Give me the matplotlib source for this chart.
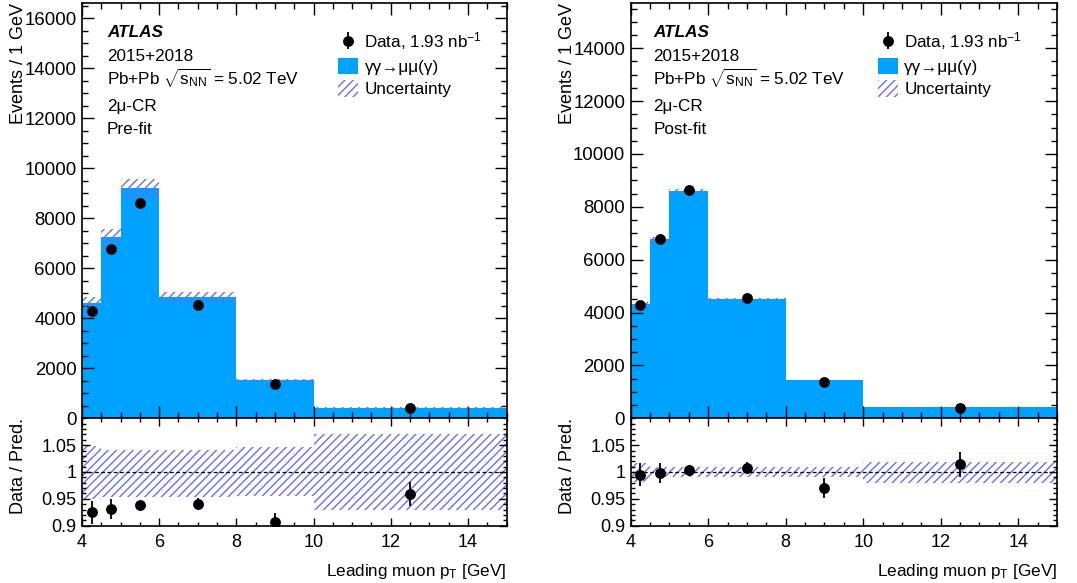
import numpy as np
import matplotlib
matplotlib.use("Agg")
import matplotlib.pyplot as plt
from matplotlib.lines import Line2D
from matplotlib.patches import Patch
from matplotlib.ticker import MultipleLocator

plt.rcParams['font.family'] = ['Liberation Sans', 'DejaVu Sans']
plt.rcParams['mathtext.fontset'] = 'custom'
plt.rcParams['mathtext.rm'] = 'Liberation Sans'
plt.rcParams['mathtext.it'] = 'Liberation Sans:italic'
plt.rcParams['mathtext.bf'] = 'Liberation Sans:bold'
plt.rcParams['hatch.linewidth'] = 1.0

# ---------------- data ----------------
edges = [4, 4.5, 5, 6, 8, 10, 15]
centers = [4.25, 4.75, 5.5, 7, 9, 12.5]

data = [4280, 6770, 8630, 4540, 1370, 405]
data_err = [65, 82, 93, 67, 37, 20]

pred_pre = [4630, 7270, 9210, 4840, 1520, 425]
pred_post = [4320, 6780, 8605, 4522, 1448, 416]

# uncertainty band (relative, lower/upper)
band_pre_lo = [0.950, 0.953, 0.953, 0.953, 0.955, 0.929]
band_pre_hi = [1.049, 1.041, 1.041, 1.041, 1.046, 1.071]
band_post_lo = [0.982, 0.990, 0.990, 0.990, 0.990, 0.980]
band_post_hi = [1.017, 1.009, 1.009, 1.009, 1.009, 1.019]

ratio_pre = [0.925, 0.931, 0.938, 0.941, 0.906, 0.959]
ratio_pre_err = [0.021, 0.018, 0.010, 0.011, 0.017, 0.023]
ratio_post = [0.995, 0.998, 1.003, 1.007, 0.970, 1.014]
ratio_post_err = [0.022, 0.018, 0.010, 0.011, 0.019, 0.024]

panels = [
    dict(label='Pre-fit', pred=pred_pre, lo=band_pre_lo, hi=band_pre_hi,
         ratio=ratio_pre, rerr=ratio_pre_err, ymax=16600, yticks=range(0, 16001, 2000)),
    dict(label='Post-fit', pred=pred_post, lo=band_post_lo, hi=band_post_hi,
         ratio=ratio_post, rerr=ratio_post_err, ymax=15700, yticks=range(0, 14001, 2000)),
]

W, H = 1077, 583
fig = plt.figure(figsize=(W / 100, H / 100), dpi=100)

BLUE = '#00a2ff'
HATCH = '#6c6cff'
FS = 12.3
TFS = 13.0

lefts = [82, 630.7]
widths = [424.5, 426.3]
top_px, mid_px, bot_px = 3.3, 418.3, 525.7
legend_x = [0.603, 0.580]
text_x = [0.059, 0.053]


def style_axis(ax, major_len, minor_len):
    for s in ax.spines.values():
        s.set_linewidth(1.2)
    ax.tick_params(which='both', direction='in', top=True, right=True,
                   labelsize=TFS, width=1.0)
    ax.tick_params(which='major', length=major_len)
    ax.tick_params(which='minor', length=minor_len)
    ax.xaxis.set_major_locator(MultipleLocator(2))
    ax.xaxis.set_minor_locator(MultipleLocator(0.5))


for i, p in enumerate(panels):
    l = lefts[i] / W
    w = widths[i] / W
    axm = fig.add_axes([l, (H - mid_px) / H, w, (mid_px - top_px) / H])
    axr = fig.add_axes([l, (H - bot_px) / H, w, (bot_px - mid_px) / H], sharex=axm)

    pred = np.array(p['pred'])
    lo = pred * np.array(p['lo'])
    hi = pred * np.array(p['hi'])

    axm.stairs(pred, edges, fill=True, color=BLUE, lw=0, zorder=1)
    axm.stairs(hi, edges, baseline=lo, fill=True, facecolor='none',
               edgecolor=HATCH, hatch='////', lw=0, zorder=2)
    axm.errorbar(centers, data, yerr=data_err, fmt='o', color='black',
                 markersize=6.8, elinewidth=1.3, capsize=0, zorder=3)
    axm.set_xlim(4, 15)
    axm.set_ylim(0, p['ymax'])
    axm.set_yticks(list(p['yticks']))
    axm.yaxis.set_minor_locator(MultipleLocator(500))
    style_axis(axm, 8.8, 4.4)
    axm.tick_params(labelbottom=False, pad=4)
    axm.tick_params(axis='y', labelsize=13.4)
    axm.set_ylabel('Events / 1 GeV', fontsize=13.0, loc='top')
    axm.yaxis.set_label_coords(-55 / widths[i], 1.0)

    # text block
    tx = text_x[i]
    lines = [
        (36.7, 'ATLAS', dict(fontweight='bold', fontstyle='italic')),
        (61.0, '2015+2018', {}),
        (85.0, r'Pb+Pb $\sqrt{\mathrm{s}_{\mathrm{NN}}}$ = 5.02 TeV', {}),
        (110.5, '2\u03bc-CR', {}),
        (134.0, p['label'], {}),
    ]
    for yb, s, kw in lines:
        yf = 1 - (yb - top_px) / (mid_px - top_px)
        axm.text(tx, yf, s, transform=axm.transAxes, fontsize=FS,
                 va='baseline', ha='left', **kw)

    data_handle = axm.errorbar([], [], yerr=[], fmt='o', color='black',
                               markersize=6.8, elinewidth=1.3, capsize=0)
    handles = [
        data_handle,
        Patch(facecolor=BLUE, edgecolor=BLUE, lw=0),
        Patch(facecolor='none', edgecolor=HATCH, hatch='////', lw=0),
    ]
    labels = [r'Data, 1.93 nb$^{\mathrm{-1}}$',
              '\u03b3\u03b3\u2192\u03bc\u03bc(\u03b3)', 'Uncertainty']
    axm.legend(handles, labels, loc='upper left',
               bbox_to_anchor=(legend_x[i], 0.935), frameon=False,
               fontsize=FS, borderpad=0, borderaxespad=0,
               handlelength=1.15, handleheight=1.1, handletextpad=0.4,
               labelspacing=0.33)

    # ratio panel
    rlo = np.array(p['lo'])
    rhi = np.array(p['hi'])
    axr.stairs(rhi, edges, baseline=rlo, fill=True, facecolor='none',
               edgecolor=HATCH, hatch='////', lw=0, zorder=1)
    axr.axhline(1.0, color='black', ls=(0, (3, 2)), lw=0.9, zorder=2)
    axr.errorbar(centers, p['ratio'], yerr=p['rerr'], fmt='o', color='black',
                 markersize=6.8, elinewidth=1.3, capsize=0, zorder=3)
    axr.set_ylim(0.9, 1.1)
    axr.set_yticks([0.9, 0.95, 1.0, 1.05])
    axr.set_yticklabels(['0.9', '0.95', '1', '1.05'])
    axr.yaxis.set_minor_locator(MultipleLocator(0.01))
    style_axis(axr, 6.0, 3.0)
    axr.tick_params(axis='y', pad=4)
    axr.tick_params(axis='x', pad=6)
    axr.set_xlim(4, 15)
    axr.set_ylabel('Data / Pred.', fontsize=13.0, loc='top')
    axr.yaxis.set_label_coords(-55 / widths[i], 1.0)
    axr.set_xlabel(r'Leading muon p$_{\mathrm{T}}$ [GeV]', fontsize=FS,
                   loc='right', labelpad=8)

fig.savefig('out.png', dpi=100)
